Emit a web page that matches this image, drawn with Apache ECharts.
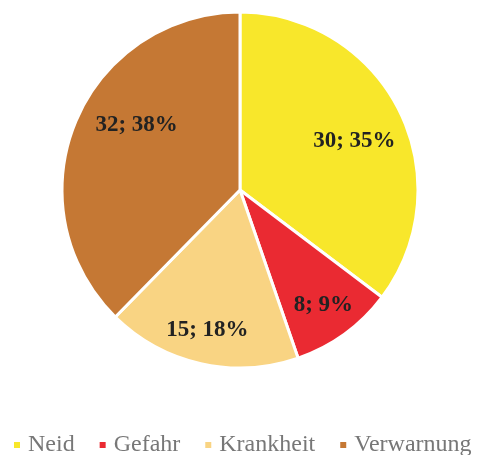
<!DOCTYPE html>
<html>
<head>
<meta charset="utf-8">
<script src="https://cdn.jsdelivr.net/npm/echarts@6/dist/echarts.min.js"></script>
<style>
  html, body { margin: 0; padding: 0; background: #fff; }
  #chart { width: 478px; height: 455px; }
</style>
</head>
<body>
<div id="chart"></div>
<script>
const categories = ['Neid', 'Gefahr', 'Krankheit', 'Verwarnung'];
const values = [30, 8, 15, 32];
const colors = ['#F8E72B', '#EA2A32', '#F9D483', '#C57834'];

// small nudges so labels sit where the original (best fit) put them
const labelNudge = [[-2, 9], [7, 10], [-4, 13], [17, -16]];

const chart = echarts.init(document.getElementById('chart'));
const total = values.reduce((a, b) => a + b, 0);
const pieData = categories.map((name, i) => ({ name, value: values[i] }));

chart.setOption({
  animation: false,
  color: colors,
  legend: {
    data: categories,
    left: 12,
    top: 433,
    padding: 0,
    width: 470,
    icon: 'rect',
    itemWidth: 8,
    itemHeight: 8,
    itemGap: 23,
    textStyle: {
      fontFamily: 'Liberation Serif',
      fontSize: 24,
      color: '#777777',
      padding: [0, 0, 0, 2]
    }
  },
  series: [
    {
      type: 'pie',
      center: [240, 190],
      radius: [0, 178],
      startAngle: 90,
      clockwise: true,
      silent: true,
      itemStyle: { borderColor: '#ffffff', borderWidth: 3 },
      label: { show: false },
      labelLine: { show: false },
      data: pieData
    },
    {
      // transparent copy used only to place the data labels further out
      type: 'pie',
      center: [240, 190],
      radius: [70, 184],
      startAngle: 90,
      clockwise: true,
      silent: true,
      legendHoverLink: false,
      itemStyle: { color: 'rgba(0,0,0,0)' },
      label: {
        show: true,
        position: 'inside',
        fontFamily: 'Liberation Serif',
        fontSize: 23,
        fontWeight: 'bold',
        color: '#222222',
        formatter: p => p.value + '; ' + Math.round(p.value / total * 100) + '%'
      },
      labelLayout: p => ({ dx: labelNudge[p.dataIndex][0], dy: labelNudge[p.dataIndex][1] }),
      labelLine: { show: false },
      data: pieData
    }
  ]
});
</script>
</body>
</html>
